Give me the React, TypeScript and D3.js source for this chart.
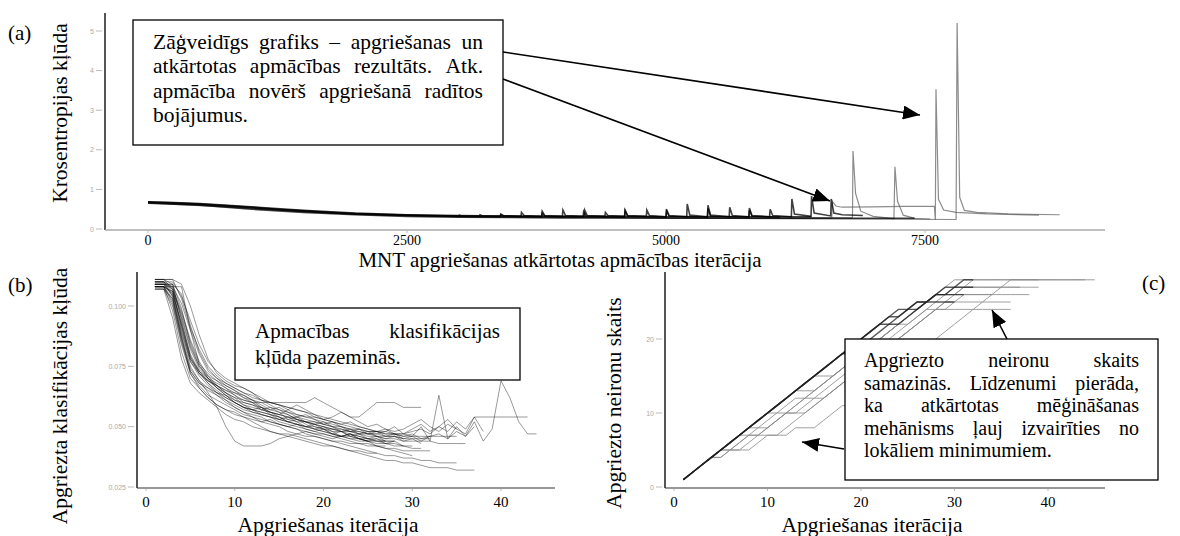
import * as d3 from "d3";
import React from "react";

// (a) cross-entropy loss runs: [iteration, loss]
const lossRunMain: [number, number][] = [
  [0, 0.68], [250, 0.66], [500, 0.63], [750, 0.59], [1000, 0.55], [1250, 0.5], [1500, 0.46],
  [1750, 0.42], [2000, 0.39], [2250, 0.37], [2500, 0.35], [2750, 0.34],
  [3000, 0.33], [3005, 0.35], [3030, 0.33], [3200, 0.33],
  [3205, 0.36], [3230, 0.33], [3400, 0.33],
  [3405, 0.38], [3430, 0.34], [3600, 0.32],
  [3605, 0.42], [3630, 0.34], [3800, 0.32],
  [3805, 0.45], [3830, 0.34], [4000, 0.32],
  [4005, 0.48], [4030, 0.34], [4210, 0.32],
  [4215, 0.48], [4240, 0.34], [4410, 0.32],
  [4415, 0.42], [4440, 0.34], [4600, 0.32],
  [4605, 0.48], [4630, 0.34], [4810, 0.32],
  [4815, 0.48], [4840, 0.34], [5000, 0.31],
  [5005, 0.5], [5030, 0.34], [5200, 0.31],
  [5205, 0.63], [5230, 0.35], [5400, 0.31],
  [5405, 0.6], [5430, 0.35], [5610, 0.31],
  [5615, 0.55], [5640, 0.34], [5800, 0.31],
  [5805, 0.53], [5830, 0.34], [6000, 0.31],
  [6005, 0.5], [6030, 0.34], [6210, 0.31],
  [6215, 0.76], [6240, 0.38], [6400, 0.32],
  [6405, 0.83], [6430, 0.4], [6590, 0.33],
  [6595, 0.76], [6620, 0.4], [6700, 0.36], [6900, 0.34],
];
const lossRunBand1: [number, number][] = [
  [0, 0.69], [250, 0.67], [500, 0.64], [1000, 0.56], [1500, 0.47], [2000, 0.4], [2500, 0.36],
  [3000, 0.34], [3500, 0.33], [4000, 0.32], [4500, 0.32], [5000, 0.31], [5500, 0.31], [6000, 0.31], [6400, 0.31],
];
const lossRunBand2: [number, number][] = [
  [0, 0.65], [500, 0.6], [1000, 0.5], [1500, 0.42], [2000, 0.36], [2500, 0.32], [3000, 0.3],
  [3500, 0.29], [4000, 0.28], [4500, 0.28], [5000, 0.27], [5500, 0.27], [6000, 0.27], [6500, 0.27], [7000, 0.27], [7400, 0.27],
];
const lossRunBand3: [number, number][] = [
  [0, 0.67], [500, 0.62], [1000, 0.53], [1500, 0.44], [2000, 0.38], [2500, 0.34], [3000, 0.32],
  [3400, 0.31], [3405, 0.35], [3430, 0.32], [3800, 0.31], [3805, 0.4], [3830, 0.32], [4200, 0.31],
  [4205, 0.44], [4230, 0.32], [4600, 0.3], [4605, 0.46], [4630, 0.32], [5000, 0.3], [5005, 0.45],
  [5030, 0.32], [5400, 0.3], [5405, 0.52], [5430, 0.32], [5800, 0.3], [5805, 0.48], [5830, 0.32], [6100, 0.3],
];
const lossRunLate1: [number, number][] = [
  [0, 0.67], [500, 0.62], [1000, 0.53], [1500, 0.45], [2000, 0.38], [2500, 0.34], [3000, 0.32],
  [3500, 0.31], [4000, 0.3], [4500, 0.3], [5000, 0.29], [5500, 0.29], [6000, 0.29], [6500, 0.29],
  [6800, 0.28], [6805, 1.97], [6830, 0.9], [6880, 0.45], [7000, 0.32], [7200, 0.26],
  [7210, 1.57], [7235, 0.7], [7290, 0.35], [7400, 0.27], [7550, 0.25],
];
const lossRunLate2: [number, number][] = [
  [0, 0.66], [1000, 0.52], [2000, 0.37], [3000, 0.31], [4000, 0.29], [5000, 0.28], [6000, 0.27],
  [6600, 0.27], [6605, 0.7], [6640, 0.58], [6700, 0.55], [7000, 0.56], [7300, 0.57], [7590, 0.58],
  [7600, 0.23], [7606, 3.53], [7630, 0.75], [7680, 0.48], [7800, 0.42], [8100, 0.38], [8600, 0.35],
];
const lossRunLate3: [number, number][] = [
  [0, 0.67], [1000, 0.54], [2000, 0.38], [3000, 0.32], [4000, 0.3], [5000, 0.28], [6000, 0.26],
  [7000, 0.25], [7800, 0.24], [7810, 5.2], [7835, 0.8], [7880, 0.47], [8000, 0.42], [8300, 0.38], [8800, 0.36],
];
const lossDark = [lossRunMain, lossRunBand1, lossRunBand2, lossRunBand3];
const lossGray = [lossRunLate1, lossRunLate2, lossRunLate3];
const lossYTicks = [0, 1, 2, 3, 4, 5];
const lossXTicks = [0, 2500, 5000, 7500];

// (b) pruned classification error per pruning iteration (starting at iteration 1)
const errRuns: number[][] = [
  [.108, .108, .102, .086, .073, .068, .065, .063, .061, .059, .057, .056, .055, .054, .052, .051, .050, .049, .048, .047, .046, .046, .045, .045, .044, .044, .044],
  [.111, .111, .109, .094, .079, .072, .068, .065, .062, .060, .058, .057, .056, .055, .054, .052, .051, .050, .049, .048, .047, .046, .045, .044, .044, .043, .043, .043, .042, .042],
  [.108, .108, .098, .081, .070, .066, .062, .059, .057, .055, .054, .052, .050, .048, .047, .046, .045, .044, .043, .042, .042, .041, .040, .040, .039, .039],
  [.110, .110, .107, .098, .086, .077, .071, .067, .064, .062, .061, .060, .060, .060, .059, .058, .057, .056, .054, .053, .052, .051, .050, .049, .048, .048, .047, .047, .046, .046, .050, .044, .063, .045, .050, .046, .052, .044, .049, .069, .062, .052, .047, .047],
  [.109, .109, .108, .101, .090, .080, .073, .070, .068, .066, .064, .062, .061, .060, .060, .060, .060, .060, .062, .060, .058, .056, .054, .054, .057, .060, .060, .060, .058, .058, .058],
  [.107, .107, .095, .078, .068, .064, .061, .058, .055, .053, .052, .050, .049, .048, .047, .047, .046, .045, .044, .043, .042, .041, .040, .039, .038, .037, .036, .036, .035, .035, .034, .033, .033, .033, .032, .032, .032],
  [.109, .109, .104, .088, .075, .069, .064, .058, .050, .044, .042, .042, .042, .043, .045, .046, .047, .048, .047, .046, .045, .046, .047, .046, .045, .045, .044, .044],
  [.110, .110, .108, .096, .083, .075, .070, .066, .063, .060, .058, .056, .055, .054, .053, .052, .051, .050, .050, .049, .049, .048, .048, .047, .047, .046, .046, .046, .045, .045, .045, .045],
  [.108, .108, .106, .092, .078, .072, .069, .067, .064, .061, .059, .058, .057, .056, .055, .054, .054, .053, .052, .051, .050, .050, .049, .049, .048, .048, .047, .047, .047, .048, .049, .047, .050, .048, .052, .049, .054, .048],
  [.107, .107, .100, .084, .072, .067, .063, .061, .059, .057, .055, .054, .052, .051, .050, .048, .047, .046, .046, .045, .044, .044, .043, .043, .042, .042, .041, .041, .040, .040, .040, .040],
  [.111, .111, .111, .103, .091, .082, .075, .071, .068, .066, .064, .063, .061, .060, .059, .058, .057, .056, .055, .054, .053, .052, .051, .050, .049, .048, .048, .047, .047, .046, .046, .046, .046, .046, .046],
  [.108, .108, .103, .087, .074, .069, .066, .063, .060, .058, .056, .055, .054, .052, .051, .050, .049, .047, .046, .045, .044, .043, .042, .041, .040, .039, .038, .038, .037, .037, .036, .036, .035, .035, .035],
  [.109, .109, .105, .090, .077, .071, .067, .064, .062, .060, .058, .057, .056, .055, .054, .053, .052, .052, .051, .050, .049, .049, .048, .048, .047, .047, .048, .050, .047, .049, .051, .048, .050, .053, .049, .047, .054, .054, .054, .054, .054, .054, .054],
  [.110, .110, .106, .091, .078, .073, .070, .066, .063, .060, .058, .057, .055, .054, .053, .052, .051, .050, .049, .048, .047, .046, .046, .045, .045, .044, .044, .044],
  [.108, .108, .101, .085, .073, .068, .066, .064, .063, .061, .060, .059, .057, .056, .055, .054, .053, .052, .052, .051, .050, .049, .048, .047, .046, .046, .045, .045, .044, .044, .044, .044, .043, .043, .043, .043],
  [.109, .109, .107, .095, .082, .074, .070, .067, .065, .063, .061, .060, .058, .057, .056, .055, .053, .052, .051, .050, .049, .048, .047, .046, .045, .044, .043, .042, .042, .041, .041],
  [.110, .110, .104, .089, .077, .072, .069, .067, .065, .064, .062, .061, .060, .058, .057, .056, .055, .054, .053, .052, .051, .050, .049, .048, .047, .047, .046, .046, .045],
  [.108, .108, .105, .093, .080, .073, .068, .064, .061, .058, .056, .054, .053, .052, .051, .050, .049, .048, .047, .047, .046, .045, .044, .043, .043, .042, .042],
  [.111, .111, .111, .109, .100, .088, .078, .072, .069, .067, .066, .064, .062, .060, .059, .057, .055, .054, .054, .053, .052, .051, .052, .050, .049, .048, .049, .047, .046, .047, .045, .046],
  [.108, .108, .108, .108, .090, .076, .070, .068, .066, .063, .060, .059, .058, .056, .054, .052, .053, .051, .049, .050, .048, .046, .047, .045, .044, .045, .043, .044, .042],
  [.109, .109, .109, .099, .084, .075, .071, .069, .066, .064, .063, .061, .059, .057, .058, .056, .054, .055, .053, .051, .052, .050, .048, .049, .047, .048, .046, .047, .045, .046, .044, .046, .047, .045, .048, .046, .050],
  [.107, .107, .103, .087, .072, .066, .062, .059, .057, .056, .054, .053, .052, .053, .051, .050, .051, .049, .048, .049, .047, .046, .047, .045, .044],
  [.110, .110, .110, .104, .094, .084, .077, .073, .070, .068, .066, .064, .061, .059, .057, .055, .053, .052, .050, .049, .048, .048, .046, .045, .044, .042, .041, .040, .039, .038],
  [.108, .108, .106, .097, .085, .076, .072, .069, .067, .065, .063, .061, .058, .056, .055, .057, .059, .057, .055, .053, .054, .056, .054, .052, .050, .051, .049, .048, .049, .051, .053, .050, .048, .051, .049],
  [.111, .111, .107, .092, .079, .073, .069, .066, .064, .062, .059, .057, .058, .055, .053, .054, .052, .050, .051, .049, .047, .048, .046, .047, .045, .046, .044],
  [.109, .109, .109, .105, .092, .081, .074, .070, .067, .065, .062, .060, .057, .058, .056, .053, .054, .052, .051, .052, .050, .048, .049, .047, .048, .046, .045, .046, .044, .045, .043],
];
const errYTicks = [0.025, 0.05, 0.075, 0.1];
const iterTicks = [0, 10, 20, 30, 40];

// (c) pruned neuron count per pruning iteration (starting at iteration 1)
const neuronDark: number[][] = [
  [1, 2, 3, 4, 5, 6, 7, 8, 9, 10, 11, 12, 13, 14, 15, 16, 17, 18, 19, 20, 21, 22, 23, 24, 24, 25, 25, 26, 26, 27, 27, 27],
  [1, 2, 3, 4, 5, 6, 7, 8, 9, 10, 11, 12, 13, 14, 15, 16, 17, 18, 19, 20, 21, 22, 23, 23, 24, 25, 25, 26, 26, 26, 26],
  [1, 2, 3, 4, 5, 6, 7, 8, 9, 10, 11, 12, 13, 14, 15, 16, 17, 18, 19, 20, 21, 22, 22, 23, 24, 24, 25, 25, 25, 25],
  [1, 2, 3, 4, 5, 6, 7, 8, 9, 10, 11, 12, 13, 14, 15, 16, 17, 18, 18, 19, 20, 21, 22, 22, 23, 24, 25, 26, 27, 27, 28, 28],
];
const neuronGray: number[][] = [
  [1, 2, 3, 4, 4, 5, 6, 7, 8, 9, 10, 11, 12, 12, 13, 14, 15, 16, 17, 18, 19, 20, 21, 22, 22, 23, 24, 25, 26, 26, 27, 27, 27, 27, 27, 27, 27, 27, 27],
  [1, 2, 3, 4, 5, 5, 6, 7, 7, 8, 9, 10, 10, 11, 12, 13, 14, 15, 16, 17, 18, 19, 20, 21, 22, 23, 24, 24, 24, 25, 26, 26, 26, 26, 26, 26, 26, 26],
  [1, 2, 3, 4, 5, 5, 5, 6, 7, 7, 7, 8, 9, 10, 11, 12, 13, 14, 15, 16, 17, 18, 19, 20, 21, 22, 23, 24, 25, 25, 25, 25, 25, 25, 25, 25],
  [1, 2, 3, 4, 5, 6, 7, 7, 7, 8, 9, 10, 10, 10, 11, 12, 13, 14, 15, 16, 17, 18, 19, 20, 21, 22, 23, 24, 24, 24, 24, 24, 24, 24, 24, 24],
  [1, 2, 3, 4, 4, 5, 5, 5, 6, 7, 7, 7, 8, 8, 8, 9, 10, 11, 11, 12, 13, 14, 15, 16, 17, 18, 19, 20, 21, 22, 23, 24, 25, 26, 27, 28, 28, 28, 28, 28, 28, 28, 28, 28],
  [1, 2, 3, 4, 5, 6, 7, 8, 8, 8, 9, 10, 11, 12, 13, 14, 15, 16, 17, 18, 19, 20, 21, 22, 23, 24, 25, 26, 27, 28, 28, 28, 28, 28, 28, 28, 28, 28, 28],
  [1, 2, 3, 4, 5, 6, 7, 8, 9, 10, 10, 10, 11, 12, 12, 12, 13, 14, 15, 16, 17, 18, 19, 20, 21, 22, 23, 24, 25, 26, 27, 27, 27, 27, 27, 27, 27],
  [1, 2, 3, 4, 5, 6, 7, 8, 9, 10, 11, 12, 13, 13, 13, 14, 15, 16, 17, 18, 19, 20, 21, 22, 23, 24, 25, 26, 26, 27, 27, 28, 28, 28, 28, 28, 28, 28, 28, 28, 28, 28, 28, 28, 28],
  [1, 2, 3, 4, 5, 6, 7, 8, 9, 10, 11, 12, 13, 14, 15, 15, 15, 16, 17, 18, 19, 20, 21, 22, 23, 24, 25, 26, 26, 26, 26, 26, 26, 26],
];
const neuronYTicks = [0, 10, 20];

const SERIF = '"Liberation Serif", Tinos, "DejaVu Serif", "Noto Serif", serif';
const SANS = '"Liberation Sans", Arimo, "DejaVu Sans", sans-serif';

// scales
const xA = d3.scaleLinear().domain([0, 7500]).range([148, 925]);
const yA = d3.scaleLinear().domain([0, 5]).range([229, 31]);
const xB = d3.scaleLinear().domain([0, 40]).range([146, 501]);
const yB = d3.scaleLinear().domain([0.025, 0.1]).range([487, 306]);
const xC = d3.scaleLinear().domain([0, 40]).range([674, 1048]);
const yC = d3.scaleLinear().domain([0, 20]).range([487, 339]);

const lossLine = d3.line<[number, number]>().x((d) => xA(d[0])).y((d) => yA(d[1]));
const errLine = d3.line<number>().x((_, i) => xB(i + 1)).y((d) => yB(d));
const neuronLine = d3.line<number>().x((_, i) => xC(i + 1)).y((d) => yC(d));

let measureCtx: CanvasRenderingContext2D | null = null;
function textWidth(s: string, size: number) {
  if (!measureCtx) measureCtx = document.createElement("canvas").getContext("2d");
  measureCtx!.font = `${size}px ${SERIF}`;
  return measureCtx!.measureText(s).width;
}

const serifStyle = (size: number) => ({ fontFamily: SERIF, fontSize: size });

function TextBox({ x, y, w, h, lines, size, lineH, padX, firstBase }: any) {
  const x0 = x + padX;
  const avail = w - 2 * padX;
  return (
    <g>
      <rect x={x} y={y} width={w} height={h} fill="white" stroke="black" strokeWidth={1.3} />
      {lines.map((ln: any, li: number) => {
        const by = y + firstBase + li * lineH;
        if (!ln.justify) {
          return (
            <text key={li} x={x0} y={by} style={serifStyle(size)}>
              {ln.text}
            </text>
          );
        }
        const words = ln.text.split(" ");
        const widths = words.map((wd: string) => textWidth(wd, size));
        const gap = (avail - d3.sum(widths)) / (words.length - 1);
        let cx = x0;
        return words.map((wd: string, wi: number) => {
          const el = (
            <text key={li + "-" + wi} x={cx} y={by} style={serifStyle(size)}>
              {wd}
            </text>
          );
          cx += widths[wi] + gap;
          return el;
        });
      })}
    </g>
  );
}

function YTicks({ ticks, scale, axisX, fmt }: any) {
  return (
    <g>
      {ticks.map((t: number) => (
        <g key={t}>
          <line x1={axisX - 9} x2={axisX - 3} y1={scale(t)} y2={scale(t)} stroke="#bbb" strokeWidth={1} />
          <text x={axisX - 11} y={scale(t) + 2.5} textAnchor="end" fill="#aaa" style={{ fontFamily: SANS, fontSize: 7 }}>
            {fmt(t)}
          </text>
        </g>
      ))}
    </g>
  );
}

function XTicks({ ticks, scale, axisY, labelY, size }: any) {
  return (
    <g>
      {ticks.map((t: number) => (
        <g key={t}>
          <line x1={scale(t)} x2={scale(t)} y1={axisY + 1} y2={axisY + 3} stroke="#bbb" strokeWidth={1} />
          <text x={scale(t)} y={labelY} textAnchor="middle" style={serifStyle(size)}>
            {t}
          </text>
        </g>
      ))}
    </g>
  );
}

export default function App() {
  return (
    <svg width={1180} height={536} style={{ position: "absolute", left: 0, top: 0, background: "white" }}>
      <defs>
        <marker id="arr" viewBox="0 0 17 14" refX={17} refY={7} markerWidth={17} markerHeight={14} markerUnits="userSpaceOnUse" orient="auto">
          <path d="M0,0 L17,7 L0,14 Z" fill="black" />
        </marker>
      </defs>

      {/* ---------- (a) ---------- */}
      <text x={8} y={40} style={serifStyle(21)}>(a)</text>
      <g>
        {lossGray.map((r, i) => (
          <path key={"g" + i} d={lossLine(r)!} fill="none" stroke="#666" strokeOpacity={0.75} strokeWidth={1.2} />
        ))}
        {lossDark.map((r, i) => (
          <path key={"d" + i} d={lossLine(r)!} fill="none" stroke="#000" strokeOpacity={0.75} strokeWidth={1.6} />
        ))}
      </g>
      <line x1={105} x2={105} y1={13} y2={230} stroke="#555" strokeWidth={2} />
      <line x1={105} x2={1105} y1={230} y2={230} stroke="#aaa" strokeWidth={1.5} />
      <YTicks ticks={lossYTicks} scale={yA} axisX={105} fmt={(t: number) => String(t)} />
      <XTicks ticks={lossXTicks} scale={xA} axisY={230} labelY={245} size={14} />
      <text x={560} y={267} textAnchor="middle" style={serifStyle(21)}>
        MNT apgriešanas atkārtotas apmācības iterācija
      </text>
      <text transform="translate(67,113) rotate(-90)" textAnchor="middle" style={serifStyle(21.5)}>
        Krosentropijas kļūda
      </text>
      <TextBox
        x={133} y={20} w={370} h={125} size={21.5} lineH={24.6} padX={20} firstBase={28.5}
        lines={[
          { text: "Zāģveidīgs grafiks – apgriešanas un", justify: true },
          { text: "atkārtotas apmācības rezultāts. Atk.", justify: true },
          { text: "apmācība novērš apgriešanā radītos", justify: true },
          { text: "bojājumus.", justify: false },
        ]}
      />
      <line x1={503} y1={52} x2={920} y2={115} stroke="black" strokeWidth={1.6} markerEnd="url(#arr)" />
      <line x1={503} y1={79} x2={830} y2={201} stroke="black" strokeWidth={1.6} markerEnd="url(#arr)" />

      {/* ---------- (b) ---------- */}
      <text x={8} y={292} style={serifStyle(21)}>(b)</text>
      <g>
        {errRuns.map((r, i) => (
          <path key={i} d={errLine(r)!} fill="none" stroke="#000" strokeOpacity={0.4} strokeWidth={1} />
        ))}
      </g>
      <line x1={137} x2={137} y1={272} y2={488} stroke="#555" strokeWidth={2} />
      <line x1={137} x2={555} y1={488} y2={488} stroke="#333" strokeWidth={1.2} />
      <YTicks ticks={errYTicks} scale={yB} axisX={137} fmt={d3.format(".3f")} />
      <XTicks ticks={iterTicks} scale={xB} axisY={488} labelY={507} size={15} />
      <text x={328} y={532} textAnchor="middle" style={serifStyle(21.5)}>
        Apgriešanas iterācija
      </text>
      <text transform="translate(67,396) rotate(-90)" textAnchor="middle" style={serifStyle(21.5)}>
        Apgriezta klasifikācijas kļūda
      </text>
      <TextBox
        x={235} y={308} w={285} h={72} size={21} lineH={26} padX={20} firstBase={29.5}
        lines={[
          { text: "Apmacības klasifikācijas", justify: true },
          { text: "kļūda pazeminās.", justify: false },
        ]}
      />

      {/* ---------- (c) ---------- */}
      <text x={1142} y={290} style={serifStyle(21)}>(c)</text>
      <g>
        {neuronGray.map((r, i) => (
          <path key={"g" + i} d={neuronLine(r)!} fill="none" stroke="#888" strokeOpacity={0.8} strokeWidth={1} />
        ))}
        {neuronDark.map((r, i) => (
          <path key={"d" + i} d={neuronLine(r)!} fill="none" stroke="#222" strokeOpacity={0.75} strokeWidth={1.4} />
        ))}
      </g>
      <line x1={665} x2={665} y1={272} y2={488} stroke="#555" strokeWidth={2} />
      <line x1={665} x2={1105} y1={488} y2={488} stroke="#333" strokeWidth={1.2} />
      <YTicks ticks={neuronYTicks} scale={yC} axisX={665} fmt={(t: number) => String(t)} />
      <XTicks ticks={iterTicks} scale={xC} axisY={488} labelY={507} size={15} />
      <text x={872} y={532} textAnchor="middle" style={serifStyle(21.5)}>
        Apgriešanas iterācija
      </text>
      <text transform="translate(621,403) rotate(-90)" textAnchor="middle" style={serifStyle(21.5)}>
        Apgriezto neironu skaits
      </text>
      <TextBox
        x={845} y={339} w={313} h={141} size={20} lineH={22.5} padX={19} firstBase={28}
        lines={[
          { text: "Apgriezto neironu skaits", justify: true },
          { text: "samazinās. Līdzenumi pierāda,", justify: true },
          { text: "ka atkārtotas mēģināšanas", justify: true },
          { text: "mehānisms ļauj izvairīties no", justify: true },
          { text: "lokāliem minimumiem.", justify: false },
        ]}
      />
      <line x1={1007} y1={339} x2={992} y2={310} stroke="black" strokeWidth={1.6} markerEnd="url(#arr)" />
      <line x1={844} y1={449} x2={802} y2={442} stroke="black" strokeWidth={1.6} markerEnd="url(#arr)" />
    </svg>
  );
}
